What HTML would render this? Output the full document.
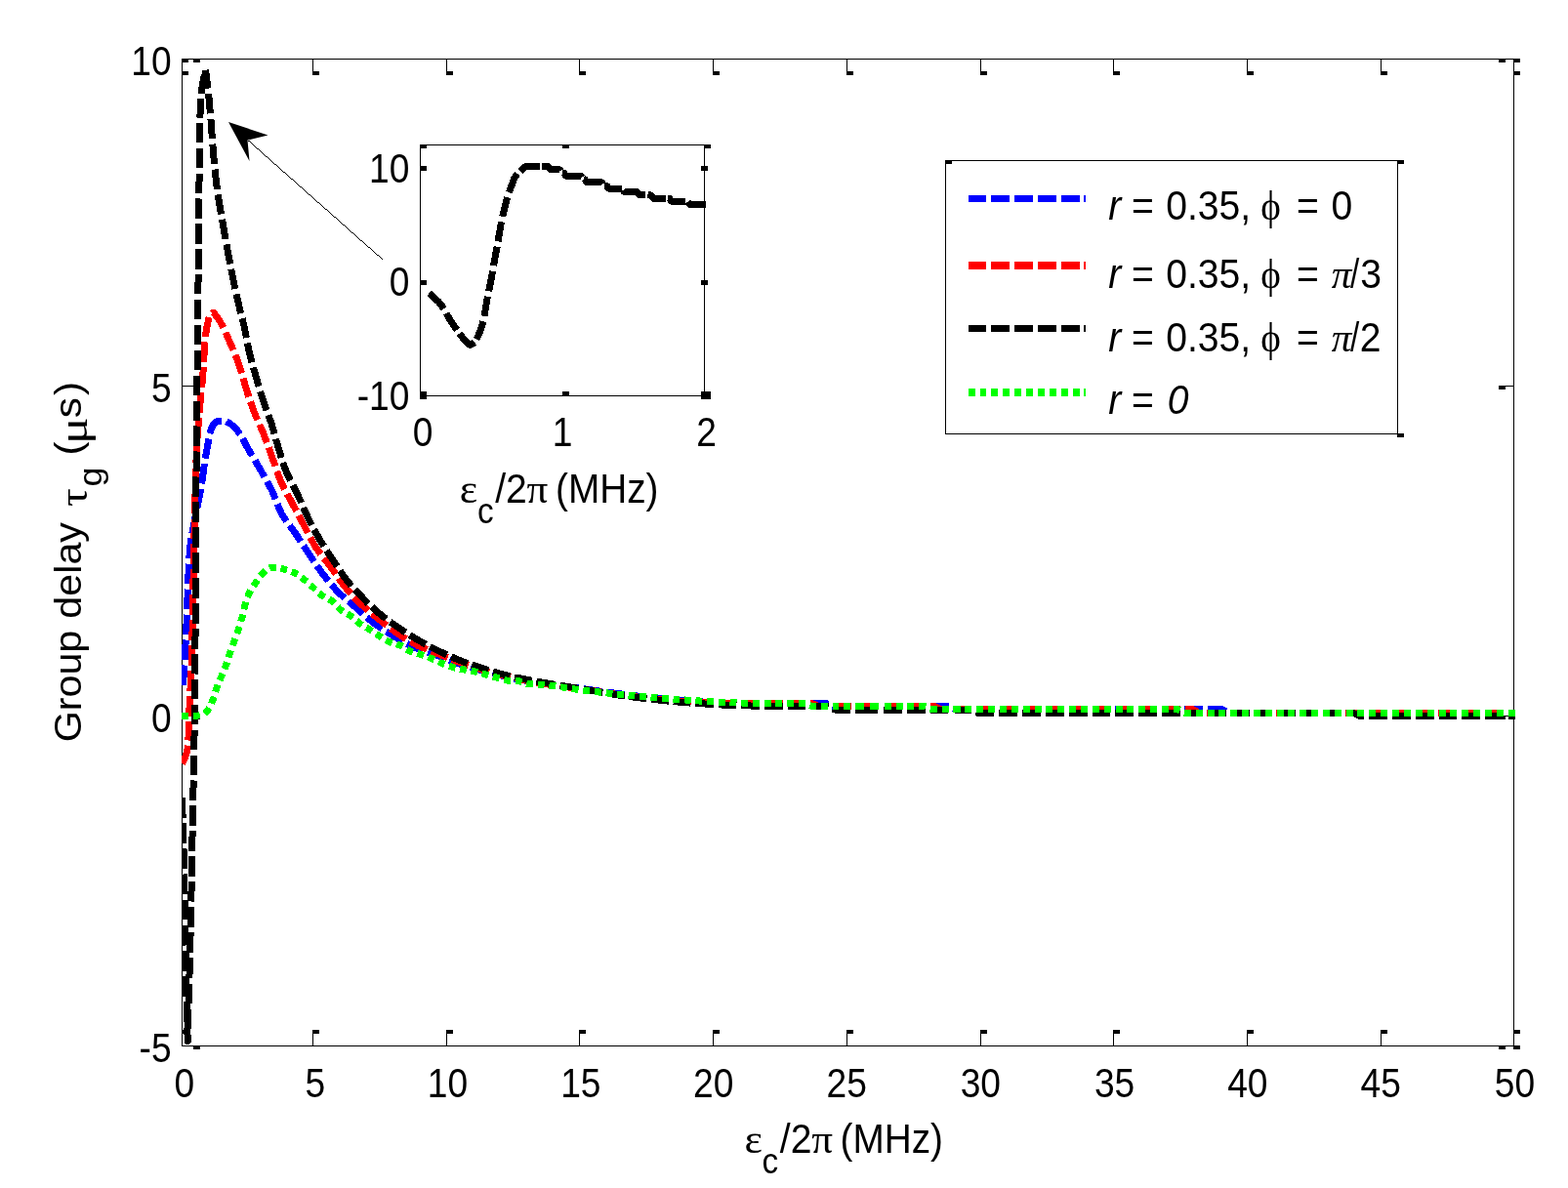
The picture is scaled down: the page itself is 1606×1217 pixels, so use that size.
<!DOCTYPE html>
<html lang="en"><head><meta charset="utf-8"><title>Group delay versus coupling field strength</title>
<style>html,body{margin:0;padding:0;background:#fff}body{width:1606px;height:1217px;overflow:hidden}svg{display:block}text{font-family:"Liberation Sans",sans-serif;font-size:42.3px;fill:#000}.sy{font-family:"Liberation Serif",serif}.it{font-style:italic}.ax{fill:#000;shape-rendering:crispEdges}.cv{fill:none;stroke-width:7;stroke-linecap:butt;stroke-linejoin:round;shape-rendering:crispEdges}</style></head><body>
<svg width="1606" height="1217" viewBox="0 0 1606 1217" role="img" aria-label="Group delay versus coupling field strength">
<rect width="1606" height="1217" fill="#fff"/>
<defs><clipPath id="cm"><rect x="186" y="60" width="1366" height="1012"/></clipPath><clipPath id="ci"><rect x="431" y="148" width="293" height="258"/></clipPath></defs>
<g class="ax">
<rect x="186" y="60" width="1371" height="1"/>
<rect x="186" y="1071" width="1365" height="1"/>
<rect x="186" y="60" width="1" height="1012"/>
<rect x="1550" y="60" width="1" height="1012"/>
<rect x="186" y="60" width="1" height="16"/>
<rect x="186" y="73" width="7" height="4"/>
<rect x="186" y="1055" width="1" height="16"/>
<rect x="186" y="1055" width="7" height="4"/>
<rect x="320" y="60" width="1" height="16"/>
<rect x="320" y="73" width="7" height="4"/>
<rect x="320" y="1055" width="1" height="16"/>
<rect x="320" y="1055" width="7" height="4"/>
<rect x="457" y="60" width="1" height="16"/>
<rect x="457" y="73" width="7" height="4"/>
<rect x="457" y="1055" width="1" height="16"/>
<rect x="457" y="1055" width="7" height="4"/>
<rect x="593" y="60" width="1" height="16"/>
<rect x="593" y="73" width="7" height="4"/>
<rect x="593" y="1055" width="1" height="16"/>
<rect x="593" y="1055" width="7" height="4"/>
<rect x="730" y="60" width="1" height="16"/>
<rect x="730" y="73" width="7" height="4"/>
<rect x="730" y="1055" width="1" height="16"/>
<rect x="730" y="1055" width="7" height="4"/>
<rect x="867" y="60" width="1" height="16"/>
<rect x="867" y="73" width="7" height="4"/>
<rect x="867" y="1055" width="1" height="16"/>
<rect x="867" y="1055" width="7" height="4"/>
<rect x="1004" y="60" width="1" height="16"/>
<rect x="1004" y="73" width="7" height="4"/>
<rect x="1004" y="1055" width="1" height="16"/>
<rect x="1004" y="1055" width="7" height="4"/>
<rect x="1140" y="60" width="1" height="16"/>
<rect x="1140" y="73" width="7" height="4"/>
<rect x="1140" y="1055" width="1" height="16"/>
<rect x="1140" y="1055" width="7" height="4"/>
<rect x="1277" y="60" width="1" height="16"/>
<rect x="1277" y="73" width="7" height="4"/>
<rect x="1277" y="1055" width="1" height="16"/>
<rect x="1277" y="1055" width="7" height="4"/>
<rect x="1414" y="60" width="1" height="16"/>
<rect x="1414" y="73" width="7" height="4"/>
<rect x="1414" y="1055" width="1" height="16"/>
<rect x="1414" y="1055" width="7" height="4"/>
<rect x="1550" y="60" width="1" height="16"/>
<rect x="1550" y="73" width="7" height="4"/>
<rect x="1550" y="1055" width="1" height="16"/>
<rect x="1550" y="1055" width="7" height="4"/>
<rect x="186" y="60" width="19" height="1"/>
<rect x="198" y="60" width="7" height="4"/>
<rect x="1535" y="60" width="16" height="1"/>
<rect x="1535" y="60" width="7" height="4"/>
<rect x="186" y="395" width="19" height="1"/>
<rect x="198" y="395" width="7" height="4"/>
<rect x="1535" y="395" width="16" height="1"/>
<rect x="1535" y="395" width="7" height="4"/>
<rect x="186" y="733" width="19" height="1"/>
<rect x="198" y="733" width="7" height="4"/>
<rect x="1535" y="733" width="16" height="1"/>
<rect x="1535" y="733" width="7" height="4"/>
<rect x="186" y="1071" width="19" height="1"/>
<rect x="198" y="1071" width="7" height="4"/>
<rect x="1535" y="1071" width="16" height="1"/>
<rect x="1535" y="1071" width="7" height="4"/>
<rect x="186" y="60" width="7" height="4"/>
<rect x="1550" y="60" width="7" height="4"/>
<rect x="1550" y="1071" width="7" height="4"/>
</g>
<g class="ax">
<rect x="430" y="148" width="298" height="1"/>
<rect x="430" y="405" width="292" height="1"/>
<rect x="430" y="148" width="1" height="258"/>
<rect x="721" y="148" width="1" height="258"/>
<rect x="430" y="148" width="7" height="4"/>
<rect x="430" y="401" width="7" height="4"/>
<rect x="576" y="148" width="7" height="4"/>
<rect x="576" y="401" width="7" height="4"/>
<rect x="721" y="148" width="7" height="4"/>
<rect x="718" y="401" width="7" height="4"/>
<rect x="430" y="170" width="7" height="5"/>
<rect x="718" y="170" width="7" height="5"/>
<rect x="430" y="287" width="7" height="5"/>
<rect x="718" y="287" width="7" height="5"/>
<rect x="430" y="401" width="7" height="8"/>
<rect x="718" y="401" width="10" height="8"/>
</g>
<g clip-path="url(#cm)" class="cv">
<path stroke="#00f" d="M187.3,702.0L188.2,691.5L188.7,681.5M189.0,676.1L190.3,655.5M190.6,650.1L191.4,629.6M191.6,624.1L192.3,603.6M192.6,598.1L193.5,577.6M193.8,572.1L194.7,560.8L196.0,551.7M196.9,546.3L200.7,526.2M201.8,520.9L205.8,500.8M206.7,495.4L209.4,475.1M210.3,469.7L213.9,449.5M214.9,444.2L216.8,438.4L217.9,436.1L219.3,434.2L220.8,432.8L222.6,431.7L227.0,430.9M231.9,431.8L235.4,433.7L239.3,436.9L242.7,440.5L245.9,444.9M248.6,449.4L253.2,458.1L258.3,466.8M261.0,471.4L271.0,488.6M273.6,493.1L278.7,502.9L282.2,511.4M284.1,516.4L286.2,521.5L288.3,526.0L290.6,529.8L293.5,534.1M296.7,538.3L302.1,545.6L308.0,554.6M310.9,559.0L321.7,575.3M324.6,579.6L329.8,586.8L336.3,595.1M339.5,599.1L346.4,606.7L353.0,612.8M356.9,616.0L364.2,622.1L371.7,628.9M375.6,632.4L382.7,638.2L391.2,644.1M395.6,646.9L412.2,656.9M416.7,659.4L424.3,663.1L433.6,666.5M438.2,668.1L447.9,671.4L455.5,674.2M460.1,676.0L469.0,679.4L477.4,682.1M482.0,683.6L499.6,688.6M504.3,689.8L522.1,694.0M526.8,695.0L544.7,698.4M549.5,699.2L568.4,702.0M573.4,702.6L592.4,705.0M597.4,705.7L616.4,708.3M621.4,709.0L639.3,711.4M644.1,712.0L662.1,714.0M666.8,714.5L684.8,716.2M689.6,716.7L707.6,718.1M712.4,718.5L730.9,719.7M735.8,719.9L754.3,720.3M759.3,720.4L777.8,720.6M782.7,720.6L801.2,720.6M806.1,720.6L824.7,720.6M829.6,720.7L846.0,720.7L848.2,721.2M852.7,723.2L854.0,723.4L871.3,723.4M876.2,723.4L899.5,723.4M905.6,723.4L924.4,723.4M929.4,723.4L948.2,723.4M953.2,723.4L972.0,723.5M976.4,725.9L978.0,726.6L978.9,726.7L995.1,726.7M1000.1,726.7L1018.8,726.7M1023.8,726.7L1042.5,726.7M1047.5,726.7L1066.2,726.7M1071.2,726.7L1089.9,726.7M1094.9,726.7L1113.6,726.7M1118.6,726.7L1137.3,726.7M1142.3,726.7L1161.0,726.7M1166.0,726.7L1184.7,726.7M1189.7,726.7L1208.4,726.7M1213.4,726.7L1232.1,726.7M1237.1,726.7L1251.6,726.7L1252.9,727.2L1255.3,728.7M1260.0,730.3L1278.7,730.3M1283.7,730.3L1302.4,730.3M1307.3,730.3L1326.1,730.3M1331.0,730.3L1349.7,730.3M1354.7,730.3L1373.4,730.3M1378.4,730.3L1397.1,730.3M1402.1,730.3L1420.9,730.3M1425.9,730.3L1444.7,730.3M1449.7,730.3L1468.5,730.3M1473.5,730.3L1492.3,730.3M1497.3,730.3L1516.1,730.3M1521.1,730.3L1539.9,730.3M1544.9,730.3L1553.0,730.3"/>
<path stroke="#f00" d="M186.5,782.0L188.9,777.6L190.9,771.9L192.0,768.0L192.5,763.7M192.9,758.5L193.6,738.8M193.7,733.6L194.5,713.1M194.9,707.7L196.0,687.2M196.2,681.8L196.8,661.3M196.9,655.8L197.2,635.3M197.3,629.9L197.7,609.4M197.8,604.0L198.2,583.5M198.3,578.0L198.8,557.5M198.9,552.1L199.3,531.6M199.4,526.1L199.8,505.7M200.0,500.2L200.7,479.7M200.9,474.3L201.8,453.8M202.2,448.4L203.7,428.0M204.1,422.5L206.0,402.1M206.6,396.7L207.6,387.5L208.3,376.3M208.6,370.9L209.9,350.4M210.4,345.0L211.7,335.6L214.2,325.0M217.7,321.1L218.6,320.2L222.1,324.5L225.2,329.0L228.8,335.7M231.1,340.6L239.0,358.7M241.1,363.6L244.8,373.4L247.6,382.4M249.0,387.5L251.6,396.4L254.8,406.5M256.5,411.5L260.5,422.5L263.6,430.1M265.8,434.9L269.4,443.1L273.4,453.5M275.3,458.5L282.0,477.6M283.7,482.7L287.5,493.0L291.4,501.2M294.0,505.9L303.6,523.4M306.1,528.1L315.3,545.9M317.7,550.6L323.1,560.2L328.5,567.7M331.8,571.9L338.0,579.6L343.9,588.0M346.9,592.5L352.4,600.1L359.3,608.2M362.9,612.1L370.0,619.2L377.0,625.4M381.0,628.7L396.1,640.7M400.1,643.8L406.7,648.6L415.9,654.6M420.2,657.3L428.1,661.4L437.4,665.3M442.0,667.1L458.6,673.7M462.9,675.5L470.4,678.4L479.6,681.6M484.1,683.0L501.0,688.2M505.6,689.5L522.7,693.8M527.3,694.8L544.6,698.2M549.2,699.1L568.3,702.1M573.4,702.8L592.6,705.4M597.7,706.2L616.8,709.1M621.9,709.9L639.7,712.5M644.5,713.0L662.3,715.1M667.1,715.6L685.0,717.3M689.8,717.7L707.7,719.0M712.5,719.4L731.0,720.3M735.9,720.5L754.5,720.6M759.4,720.6L778.0,720.6M782.9,720.6L801.5,720.6M806.4,720.6L825.0,720.7M829.9,720.7L832.4,720.9L836.7,722.9L838.6,723.4L848.0,723.4M852.9,723.4L871.5,723.4M876.4,723.4L899.4,723.4M905.5,723.4L924.3,723.4M929.4,723.4L948.2,723.4M953.2,723.4L957.0,723.5L958.4,724.1L961.6,726.0L963.5,726.7L971.5,726.7M976.5,726.7L995.4,726.7M1000.4,726.7L1019.1,726.7M1024.1,726.7L1042.8,726.7M1047.7,726.7L1066.5,726.7M1071.4,726.7L1090.1,726.7M1095.1,726.7L1113.8,726.7M1118.8,726.7L1137.5,726.7M1142.5,726.7L1161.2,726.7M1166.2,726.7L1184.9,726.7M1189.9,726.7L1208.6,726.7M1213.5,726.7L1221.6,726.7L1223.4,727.5L1226.5,729.5L1227.9,730.1L1231.4,730.3M1236.4,730.3L1255.1,730.3M1260.1,730.3L1278.8,730.3M1283.7,730.3L1302.4,730.3M1307.4,730.3L1326.1,730.3M1331.0,730.3L1349.7,730.3M1354.7,730.3L1373.4,730.3M1378.3,730.3L1397.0,730.3M1402.0,730.3L1420.8,730.3M1425.8,730.3L1444.6,730.3M1449.6,730.3L1468.4,730.3M1473.4,730.3L1492.2,730.3M1497.2,730.3L1516.1,730.3M1521.1,730.3L1539.9,730.3M1544.9,730.3L1553.0,730.3"/>
<path stroke="#000" d="M186.5,817.0L187.1,837.7M187.3,843.2L187.9,863.8M188.0,869.3L188.5,890.0M188.6,895.5L189.0,916.2M189.1,921.7L189.5,942.3M189.6,947.8L190.0,968.5M190.1,974.0L190.4,994.7M190.5,1000.2L190.9,1020.9M191.0,1026.4L191.5,1047.0M191.7,1052.5L192.3,1066.5L192.5,1059.8M192.6,1054.3L193.0,1033.6M193.1,1028.1L193.7,1007.5M193.9,1002.0L194.5,981.3M194.6,975.8L195.1,955.1M195.3,949.6L195.7,929.0M195.8,923.5L196.2,903.0M196.3,897.6L196.7,877.1M196.8,871.7L197.1,851.3M197.2,845.8L197.6,825.4M197.7,819.9L198.2,799.5M198.3,794.1L198.7,773.6M198.8,768.2L199.1,747.7M199.1,742.3L199.3,721.8M199.3,716.4L199.5,695.9M199.6,690.5L199.8,670.1M199.9,664.6L200.1,644.2M200.1,638.7L200.3,618.3M200.4,612.8L200.6,592.3M200.6,586.9L200.7,566.4M200.7,560.9L200.8,540.4M200.8,534.9L200.9,514.4M200.9,509.0L201.0,488.5M201.1,483.0L201.2,462.5M201.2,457.0L201.4,436.5M201.5,431.1L201.7,410.6M201.8,405.1L202.0,384.6M202.1,379.1L202.3,358.6M202.4,353.2L202.6,332.7M202.6,327.2L202.8,306.8M202.9,301.4L203.1,281.0M203.1,275.6L203.3,255.1M203.4,249.7L203.6,229.3M203.7,223.9L203.9,203.5M203.9,198.1L204.1,177.7M204.2,172.2L204.5,151.8M204.5,146.4L204.8,126.0M204.9,120.6L205.5,101.1M206.0,95.9L207.3,87.3L209.4,76.7M210.5,71.7L213.0,90.7M213.6,95.8L215.4,116.3M215.9,121.7L217.4,142.2M217.8,147.6L219.5,168.1M220.0,173.5L222.4,193.9M223.2,199.3L226.5,219.5M227.5,224.8L231.0,245.0M232.0,250.4L235.7,270.5M236.8,275.8L240.8,295.9M242.0,301.2L246.7,321.0M248.1,326.2L250.3,335.2L252.4,346.1M253.3,351.4L255.2,360.2L258.0,371.2M259.5,376.4L265.1,395.9M266.6,401.1L270.0,411.7L273.1,420.3M275.0,425.3L278.3,434.7L281.1,444.4M282.5,449.6L288.2,468.9M289.8,474.0L293.7,484.4L297.5,492.4M299.9,497.1L304.2,505.4L308.6,515.0M310.7,519.9L314.5,528.3L319.2,537.9M321.7,542.5L327.1,552.1L331.7,559.6M334.5,563.9L345.3,580.3M348.2,584.7L353.8,592.7L360.0,600.3M363.4,604.1L377.0,618.1M380.7,621.6L387.8,627.9L395.4,634.0M399.5,637.1L415.3,647.9M419.5,650.6L436.0,660.2M440.4,662.5L457.4,670.8M462.0,672.8L470.3,676.3L478.8,679.5M483.3,681.1L500.4,686.7M505.0,688.1L513.0,690.4L522.3,692.7M527.0,693.8L544.6,697.2M549.3,698.0L568.5,701.3M573.6,702.1L592.8,705.3M597.9,706.2L617.2,709.4M622.3,710.3L640.0,713.0M644.7,713.6L662.4,715.8M667.1,716.3L684.9,718.2M689.7,718.6L707.5,720.1M712.2,720.4L730.8,721.6M735.8,721.9L754.4,722.6M759.3,722.8L778.0,723.2M782.9,723.2L801.6,723.3M806.5,723.3L825.1,723.3M830.0,723.3L847.2,723.4L848.5,723.7M852.8,726.3L854.9,727.0L871.2,727.0M876.2,727.0L899.2,727.0M905.3,727.0L924.0,727.0M929.0,727.0L947.7,727.0M952.7,727.0L971.4,727.0M976.4,727.0L995.1,727.2M999.5,729.6L1001.8,730.3L1018.2,730.3M1023.2,730.3L1042.0,730.3M1047.0,730.3L1065.8,730.3M1070.9,730.3L1089.7,730.3M1094.7,730.3L1113.5,730.3M1118.5,730.3L1137.3,730.3M1142.3,730.3L1161.1,730.3M1166.1,730.3L1184.9,730.3M1189.9,730.3L1208.6,730.3M1213.6,730.3L1232.2,730.3M1237.2,730.3L1255.9,730.3M1260.8,730.3L1279.5,730.3M1284.5,730.3L1303.1,730.3M1308.1,730.3L1326.7,730.3M1331.7,730.3L1350.4,730.3M1355.3,730.3L1374.0,730.3M1379.0,730.3L1385.5,730.3L1387.3,730.9L1392.0,733.2L1397.1,733.3M1402.1,733.3L1420.9,733.3M1425.9,733.3L1444.7,733.3M1449.7,733.3L1468.6,733.3M1473.6,733.3L1492.4,733.3M1497.4,733.3L1516.2,733.3M1521.2,733.3L1540.1,733.3M1545.1,733.3L1553.0,733.3"/>
<path stroke="#0f0" d="M186.0,733.5L193.0,733.4M197.9,733.3L202.0,733.2L204.9,732.6M209.5,730.7L212.3,728.3L214.4,725.4M216.6,720.8L219.2,713.7M220.5,708.7L222.9,701.6M225.0,696.9L228.0,690.1M230.1,685.4L232.6,678.4M234.1,673.4L236.4,666.2M238.3,661.3L240.9,654.1M242.7,649.1L245.1,641.9M246.8,636.8L248.7,629.4M249.9,624.2L251.8,616.8M253.4,611.7L255.0,607.9L256.6,604.8M259.5,600.4L263.6,594.2M266.6,590.0L271.9,584.8M276.0,582.0L278.9,581.0L282.8,581.3M287.4,582.3L294.0,584.0M298.6,585.5L302.0,587.0L304.8,588.6M308.7,591.4L314.2,595.8M317.9,599.1L323.1,604.0M326.7,607.5L329.7,609.9L332.5,611.6M336.9,613.7L340.3,615.7L342.6,617.9M345.9,621.8L348.5,624.5L351.3,626.4M355.6,628.8L358.8,630.6L361.5,632.7M365.2,636.1L368.0,638.4L370.9,640.3M375.1,642.7L381.1,646.4M385.1,649.2L391.0,653.1M395.1,655.8L398.5,657.5L401.5,658.6M406.1,659.8L409.9,661.1L412.5,662.4M416.6,665.1L419.8,667.0L422.9,668.1M427.5,669.3L434.1,671.4M438.5,673.1L444.8,675.8M449.1,677.9L455.4,680.7M459.9,682.3L466.5,684.2M471.1,685.2L477.8,686.4M482.5,687.1L489.1,688.5M493.7,689.8L500.3,691.7M504.9,693.1L511.6,695.0M516.2,696.4L519.1,697.0L523.0,697.3M527.8,697.5L531.6,697.7L534.6,698.5M539.2,700.1L541.7,700.7L546.0,701.0M550.8,701.2L557.6,701.7M562.4,702.1L569.3,703.0M574.1,703.7L580.9,704.8M585.7,705.5L592.6,706.5M597.3,707.2L604.2,708.0M609.0,708.5L615.9,709.3M620.7,709.8L627.5,710.5M632.2,711.0L638.9,711.6M643.6,712.1L650.4,712.7M655.1,713.1L661.8,713.7M666.5,714.1L673.3,714.7M678.0,715.1L684.8,715.7M689.5,716.1L696.2,716.6M700.9,716.9L707.7,717.4M712.4,717.7L719.3,718.2M724.1,718.5L731.0,718.8M735.8,719.1L742.7,719.4M747.5,719.6L754.5,719.8M759.3,720.0L766.2,720.2M771.0,720.4L777.9,720.5M782.7,720.5L789.6,720.6M794.4,720.6L801.3,720.6M806.1,720.6L813.0,720.6M817.8,720.6L824.7,720.8M829.2,722.7L831.5,723.4L836.0,723.4M840.8,723.4L847.7,723.4M852.5,723.4L859.4,723.4M864.3,723.4L871.2,723.4M876.0,723.4L884.7,723.4M890.8,723.4L899.5,723.4M905.5,723.4L912.6,723.4M917.5,723.4L924.5,723.4M929.4,723.4L936.4,723.4M941.3,723.4L946.5,723.4L948.3,724.0M952.6,726.4L953.9,726.7L959.6,726.7M964.5,726.7L971.5,726.7M976.4,726.7L983.5,726.7M988.4,726.7L995.4,726.7M1000.3,726.7L1007.3,726.7M1012.1,726.7L1019.1,726.7M1024.0,726.7L1031.0,726.7M1035.8,726.7L1042.8,726.7M1047.7,726.7L1054.7,726.7M1059.5,726.7L1066.5,726.7M1071.4,726.7L1078.4,726.7M1083.2,726.7L1090.2,726.7M1095.1,726.7L1102.1,726.7M1106.9,726.7L1113.9,726.7M1118.8,726.7L1125.8,726.7M1130.6,726.7L1137.6,726.7M1142.5,726.7L1149.5,726.7M1154.3,726.7L1161.3,726.7M1166.2,726.7L1173.2,726.7M1178.0,726.7L1185.0,726.7M1189.9,726.7L1196.9,726.7M1201.7,726.7L1206.5,726.7L1208.6,727.6M1212.8,730.1L1213.8,730.3L1219.8,730.3M1224.6,730.3L1231.6,730.3M1236.5,730.3L1243.5,730.3M1248.3,730.3L1255.3,730.3M1260.1,730.3L1267.1,730.3M1272.0,730.3L1279.0,730.3M1283.8,730.3L1290.8,730.3M1295.7,730.3L1302.6,730.3M1307.5,730.3L1314.5,730.3M1319.3,730.3L1326.3,730.3M1331.2,730.3L1338.2,730.3M1343.0,730.3L1350.0,730.3M1354.9,730.3L1361.8,730.3M1366.7,730.3L1373.7,730.3M1378.5,730.3L1385.5,730.3M1390.4,730.3L1397.4,730.3M1402.2,730.3L1409.2,730.3M1414.1,730.3L1421.1,730.3M1426.0,730.3L1433.0,730.3M1437.9,730.3L1444.9,730.3M1449.8,730.3L1456.8,730.3M1461.7,730.3L1468.7,730.3M1473.5,730.3L1480.6,730.3M1485.4,730.3L1492.4,730.3M1497.3,730.3L1504.3,730.3M1509.2,730.3L1516.2,730.3M1521.1,730.3L1528.1,730.3M1533.0,730.3L1540.0,730.3M1544.9,730.3L1551.9,730.3"/>
</g>
<g clip-path="url(#ci)" class="cv">
<path stroke="#000" d="M439.5,300.5L449.3,309.2L451.9,312.3L454.5,316.3M457.1,320.9L461.1,327.9L468.0,338.0M470.6,341.6L476.3,349.3L478.5,351.3L481.4,353.4L484.2,352.0L485.9,350.6M488.0,347.6L490.0,343.5L492.0,338.9L493.6,334.1L494.9,329.2M496.0,323.9L499.4,303.7M500.6,298.2L502.9,287.4L504.6,277.8M505.5,272.1L509.1,252.8M510.0,247.4L513.5,227.3M514.7,221.8L517.3,211.0L519.8,202.2M521.5,197.2L526.1,184.1L528.1,180.2L529.9,177.9M533.0,175.4L537.7,170.9L552.9,170.4M555.2,170.3L561.2,170.4L561.9,171.0L563.2,173.0L563.9,173.6L572.9,173.6L573.6,174.2L574.1,175.1M575.9,177.2L577.7,177.4L579.4,179.7L580.1,180.3L594.6,180.4L595.4,180.8L596.0,181.7M597.9,183.4L598.8,183.6L600.4,186.0L601.1,186.7L616.1,186.7L616.8,187.3L617.4,188.3M619.0,190.3L621.5,190.4L622.2,191.0L623.6,192.9L624.3,193.4L636.7,193.4M638.2,195.0L638.9,196.0L639.6,196.6L652.1,196.6L652.8,197.1L654.8,199.8L660.8,199.9M663.5,199.9L666.6,200.0L668.7,202.8L669.4,203.2L681.6,203.2M683.7,203.2L685.0,203.2L685.8,203.5L687.5,205.9L688.2,206.4L702.4,206.4M704.6,206.6L707.0,209.5L723.0,209.6"/>
</g>
<g class="ax">
<rect x="968" y="164" width="464" height="1"/>
<rect x="968" y="444" width="464" height="1"/>
<rect x="968" y="164" width="1" height="281"/>
<rect x="1431" y="164" width="1" height="281"/>
<rect x="968" y="164" width="7" height="4"/>
<rect x="1431" y="164" width="7" height="4"/>
<rect x="1431" y="444" width="7" height="4"/>
</g>
<g shape-rendering="crispEdges">
<rect x="992" y="200" width="18" height="7" fill="#00f"/>
<rect x="1015" y="200" width="19" height="7" fill="#00f"/>
<rect x="1039" y="200" width="19" height="7" fill="#00f"/>
<rect x="1063" y="200" width="19" height="7" fill="#00f"/>
<rect x="1087" y="200" width="19" height="7" fill="#00f"/>
<rect x="1110" y="200" width="2" height="7" fill="#00f"/>
<rect x="992" y="268" width="18" height="8" fill="#f00"/>
<rect x="1015" y="268" width="19" height="8" fill="#f00"/>
<rect x="1039" y="268" width="19" height="8" fill="#f00"/>
<rect x="1063" y="268" width="19" height="8" fill="#f00"/>
<rect x="1087" y="268" width="19" height="8" fill="#f00"/>
<rect x="1110" y="268" width="2" height="8" fill="#f00"/>
<rect x="992" y="333" width="18" height="7" fill="#000"/>
<rect x="1015" y="333" width="19" height="7" fill="#000"/>
<rect x="1039" y="333" width="19" height="7" fill="#000"/>
<rect x="1063" y="333" width="19" height="7" fill="#000"/>
<rect x="1087" y="333" width="19" height="7" fill="#000"/>
<rect x="1110" y="333" width="2" height="7" fill="#000"/>
<rect x="992" y="398" width="7" height="8" fill="#0f0"/>
<rect x="1004" y="398" width="6" height="8" fill="#0f0"/>
<rect x="1015" y="398" width="7" height="8" fill="#0f0"/>
<rect x="1027" y="398" width="7" height="8" fill="#0f0"/>
<rect x="1039" y="398" width="7" height="8" fill="#0f0"/>
<rect x="1051" y="398" width="7" height="8" fill="#0f0"/>
<rect x="1063" y="398" width="7" height="8" fill="#0f0"/>
<rect x="1075" y="398" width="7" height="8" fill="#0f0"/>
<rect x="1087" y="398" width="7" height="8" fill="#0f0"/>
<rect x="1099" y="398" width="7" height="8" fill="#0f0"/>
<rect x="1110" y="398" width="2" height="8" fill="#0f0"/>
</g>
<path d="M234,125 L274.5,138.5 L253.5,143.5 L255.5,165 Z" fill="#000"/>
<path class="ax" d="M254 144h2v1h-2zM256 145h1v1h-1zM257 146h1v1h-1zM258 147h1v1h-1zM259 148h1v1h-1zM260 149h1v1h-1zM261 150h1v1h-1zM262 151h1v1h-1zM263 152h2v1h-2zM265 153h1v1h-1zM266 154h1v1h-1zM267 155h1v1h-1zM268 156h1v1h-1zM269 157h1v1h-1zM270 158h1v1h-1zM271 159h1v1h-1zM272 160h2v1h-2zM274 161h1v1h-1zM275 162h1v1h-1zM276 163h1v1h-1zM277 164h1v1h-1zM278 165h1v1h-1zM279 166h1v1h-1zM280 167h1v1h-1zM281 168h2v1h-2zM283 169h1v1h-1zM284 170h1v1h-1zM285 171h1v1h-1zM286 172h1v1h-1zM287 173h1v1h-1zM288 174h1v1h-1zM289 175h1v1h-1zM290 176h2v1h-2zM292 177h1v1h-1zM293 178h1v1h-1zM294 179h1v1h-1zM295 180h1v1h-1zM296 181h1v1h-1zM297 182h1v1h-1zM298 183h2v1h-2zM300 184h1v1h-1zM301 185h1v1h-1zM302 186h1v1h-1zM303 187h1v1h-1zM304 188h1v1h-1zM305 189h1v1h-1zM306 190h1v1h-1zM307 191h2v1h-2zM309 192h1v1h-1zM310 193h1v1h-1zM311 194h1v1h-1zM312 195h1v1h-1zM313 196h1v1h-1zM314 197h1v1h-1zM315 198h1v1h-1zM316 199h2v1h-2zM318 200h1v1h-1zM319 201h1v1h-1zM320 202h1v1h-1zM321 203h1v1h-1zM322 204h1v1h-1zM323 205h1v1h-1zM324 206h1v1h-1zM325 207h2v1h-2zM327 208h1v1h-1zM328 209h1v1h-1zM329 210h1v1h-1zM330 211h1v1h-1zM331 212h1v1h-1zM332 213h1v1h-1zM333 214h2v1h-2zM335 215h1v1h-1zM336 216h1v1h-1zM337 217h1v1h-1zM338 218h1v1h-1zM339 219h1v1h-1zM340 220h1v1h-1zM341 221h1v1h-1zM342 222h2v1h-2zM344 223h1v1h-1zM345 224h1v1h-1zM346 225h1v1h-1zM347 226h1v1h-1zM348 227h1v1h-1zM349 228h1v1h-1zM350 229h1v1h-1zM351 230h2v1h-2zM353 231h1v1h-1zM354 232h1v1h-1zM355 233h1v1h-1zM356 234h1v1h-1zM357 235h1v1h-1zM358 236h1v1h-1zM359 237h1v1h-1zM360 238h2v1h-2zM362 239h1v1h-1zM363 240h1v1h-1zM364 241h1v1h-1zM365 242h1v1h-1zM366 243h1v1h-1zM367 244h1v1h-1zM368 245h1v1h-1zM369 246h2v1h-2zM371 247h1v1h-1zM372 248h1v1h-1zM373 249h1v1h-1zM374 250h1v1h-1zM375 251h1v1h-1zM376 252h1v1h-1zM377 253h2v1h-2zM379 254h1v1h-1zM380 255h1v1h-1zM381 256h1v1h-1zM382 257h1v1h-1zM383 258h1v1h-1zM384 259h1v1h-1zM385 260h1v1h-1zM386 261h2v1h-2zM388 262h1v1h-1zM389 263h1v1h-1zM390 264h1v1h-1zM391 265h1v1h-1z"/>
<text transform="translate(178.56 1123.60) scale(0.8788 1.02)">0</text>
<text transform="translate(312.40 1123.60) scale(0.8788 1.02)">5</text>
<text transform="translate(437.84 1123.60) scale(0.8788 1.02)">10</text>
<text transform="translate(574.19 1123.60) scale(0.8788 1.02)">15</text>
<text transform="translate(710.12 1123.60) scale(0.8788 1.02)">20</text>
<text transform="translate(846.47 1123.60) scale(0.8788 1.02)">25</text>
<text transform="translate(983.65 1123.60) scale(0.8788 1.02)">30</text>
<text transform="translate(1120.90 1123.60) scale(0.8788 1.02)">35</text>
<text transform="translate(1257.13 1123.60) scale(0.8788 1.02)">40</text>
<text transform="translate(1393.58 1123.60) scale(0.8788 1.02)">45</text>
<text transform="translate(1530.81 1123.60) scale(0.8788 1.02)">50</text>
<text transform="translate(134.21 76.80) scale(0.8788 1.02)">10</text>
<text transform="translate(154.99 411.70) scale(0.8788 1.02)">5</text>
<text transform="translate(154.88 749.60) scale(0.8788 1.02)">0</text>
<text transform="translate(142.61 1087.70) scale(0.8788 1.02)">-5</text>
<text transform="translate(422.66 456.70) scale(0.8788 1.02)">0</text>
<text transform="translate(565.86 456.70) scale(0.8788 1.02)">1</text>
<text transform="translate(713.26 456.70) scale(0.8788 1.02)">2</text>
<text transform="translate(378.01 187.10) scale(0.8788 1.02)">10</text>
<text transform="translate(398.68 303.40) scale(0.8788 1.02)">0</text>
<text transform="translate(365.63 420.30) scale(0.8788 1.02)">-10</text>
<text transform="translate(0 1181.20)">
<tspan x="762.41" y="0.00" textLength="18.40" lengthAdjust="spacingAndGlyphs" class="sy">ε</tspan><tspan x="780.59" y="20.40" textLength="16.65" lengthAdjust="spacingAndGlyphs" style="font-size:36px">c</tspan><tspan x="798.80" y="0.00" textLength="32.63" lengthAdjust="spacingAndGlyphs">/2</tspan><tspan x="831.21" y="0.00" textLength="21.73" lengthAdjust="spacingAndGlyphs" class="sy">π</tspan> <tspan x="860.60" y="0.00" textLength="105.41" lengthAdjust="spacingAndGlyphs">(MHz)</tspan></text>
<text transform="translate(0 515.30)">
<tspan x="470.81" y="0.00" textLength="18.40" lengthAdjust="spacingAndGlyphs" class="sy">ε</tspan><tspan x="488.99" y="20.40" textLength="16.65" lengthAdjust="spacingAndGlyphs" style="font-size:36px">c</tspan><tspan x="507.20" y="0.00" textLength="32.63" lengthAdjust="spacingAndGlyphs">/2</tspan><tspan x="539.61" y="0.00" textLength="21.73" lengthAdjust="spacingAndGlyphs" class="sy">π</tspan> <tspan x="569.00" y="0.00" textLength="105.41" lengthAdjust="spacingAndGlyphs">(MHz)</tspan></text>
<text transform="translate(83.00 0) rotate(-90) scale(1 0.925)">
<tspan x="-760.37" y="0.00" textLength="114.63" lengthAdjust="spacingAndGlyphs">Group</tspan> <tspan x="-633.63" y="0.00" textLength="98.60" lengthAdjust="spacingAndGlyphs">delay</tspan> <tspan x="-519.12" y="6.49" textLength="18.70" lengthAdjust="spacingAndGlyphs" class="sy">τ</tspan><tspan x="-498.61" y="22.16" textLength="20.02" lengthAdjust="spacingAndGlyphs" style="font-size:36px">g</tspan> <tspan x="-466.42" y="0.00" textLength="14.09" lengthAdjust="spacingAndGlyphs">(</tspan><tspan x="-454.81" y="6.49" textLength="27.21" lengthAdjust="spacingAndGlyphs" class="sy">μ</tspan><tspan x="-428.18" y="0.00" textLength="21.15" lengthAdjust="spacingAndGlyphs">s</tspan><tspan x="-404.95" y="0.00" textLength="14.09" lengthAdjust="spacingAndGlyphs">)</tspan></text>
<text transform="translate(0 225.40)">
<tspan x="1135.15" y="0.00" textLength="13.03" lengthAdjust="spacingAndGlyphs" class="it">r</tspan> <tspan x="1158.89" y="0.00" textLength="22.85" lengthAdjust="spacingAndGlyphs">=</tspan> <tspan x="1194.17" y="0.00" textLength="87.02" lengthAdjust="spacingAndGlyphs">0.35,</tspan> <tspan x="1291.18" y="0.00" textLength="20.60" lengthAdjust="spacingAndGlyphs" class="sy">ϕ</tspan> <tspan x="1328.09" y="0.00" textLength="22.85" lengthAdjust="spacingAndGlyphs">=</tspan> <tspan x="1363.47" y="0.00" textLength="21.76" lengthAdjust="spacingAndGlyphs">0</tspan></text>
<text transform="translate(0 294.60)">
<tspan x="1135.15" y="0.00" textLength="13.03" lengthAdjust="spacingAndGlyphs" class="it">r</tspan> <tspan x="1158.89" y="0.00" textLength="22.85" lengthAdjust="spacingAndGlyphs">=</tspan> <tspan x="1194.17" y="0.00" textLength="87.02" lengthAdjust="spacingAndGlyphs">0.35,</tspan> <tspan x="1291.18" y="0.00" textLength="20.60" lengthAdjust="spacingAndGlyphs" class="sy">ϕ</tspan> <tspan x="1328.09" y="0.00" textLength="22.85" lengthAdjust="spacingAndGlyphs">=</tspan> <tspan x="1363.78" y="0.00" textLength="20.58" lengthAdjust="spacingAndGlyphs" class="sy it">π</tspan><tspan x="1383.00" y="0.00" textLength="9.24" lengthAdjust="spacingAndGlyphs">/</tspan><tspan x="1393.21" y="0.00" textLength="21.76" lengthAdjust="spacingAndGlyphs">3</tspan></text>
<text transform="translate(0 360.00)">
<tspan x="1135.15" y="0.00" textLength="13.03" lengthAdjust="spacingAndGlyphs" class="it">r</tspan> <tspan x="1158.89" y="0.00" textLength="22.85" lengthAdjust="spacingAndGlyphs">=</tspan> <tspan x="1194.17" y="0.00" textLength="87.02" lengthAdjust="spacingAndGlyphs">0.35,</tspan> <tspan x="1291.18" y="0.00" textLength="20.60" lengthAdjust="spacingAndGlyphs" class="sy">ϕ</tspan> <tspan x="1328.09" y="0.00" textLength="22.85" lengthAdjust="spacingAndGlyphs">=</tspan> <tspan x="1363.78" y="0.00" textLength="20.58" lengthAdjust="spacingAndGlyphs" class="sy it">π</tspan><tspan x="1383.00" y="0.00" textLength="9.24" lengthAdjust="spacingAndGlyphs">/</tspan><tspan x="1392.73" y="0.00" textLength="21.76" lengthAdjust="spacingAndGlyphs">2</tspan></text>
<text transform="translate(0 424.40)">
<tspan x="1135.15" y="0.00" textLength="13.03" lengthAdjust="spacingAndGlyphs" class="it">r</tspan> <tspan x="1158.89" y="0.00" textLength="22.85" lengthAdjust="spacingAndGlyphs">=</tspan> <tspan x="1195.80" y="0.00" textLength="21.76" lengthAdjust="spacingAndGlyphs" class="it">0</tspan></text>
</svg></body></html>
